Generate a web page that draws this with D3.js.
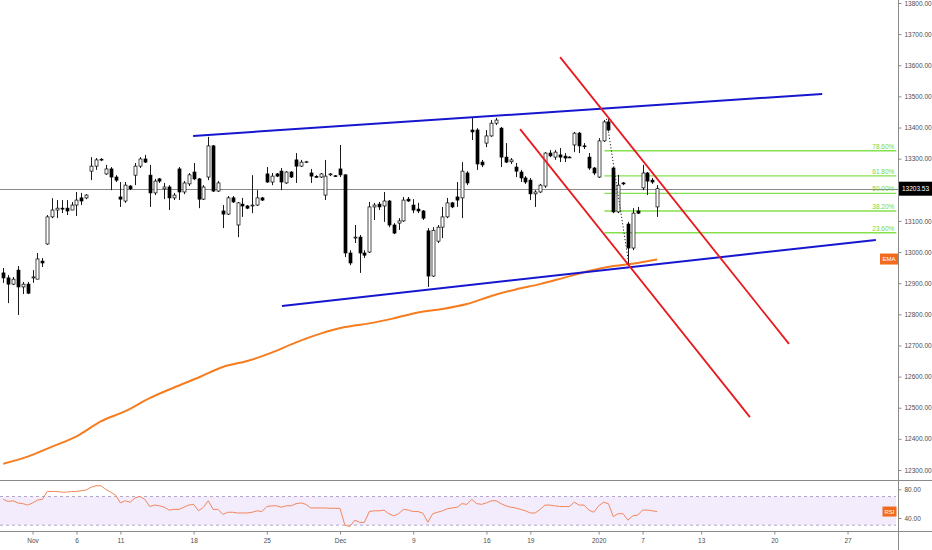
<!DOCTYPE html>
<html>
<head>
<meta charset="utf-8">
<script src="https://cdn.jsdelivr.net/npm/d3@7"></script>
<style>
  body { margin: 0; background: #fff; }
  svg { display: block; font-family: "Liberation Sans", Arial, sans-serif; }
</style>
</head>
<body>
<svg id="chart" width="932" height="550"></svg>
<script>
// candles, 3 per trading day: [open, high, low, close]
let ohlc = [
  [12933,12949,12901,12917],[12917,12926,12836,12897],[12897,12920,12894,12913],[12942,12955,12798,12888],
  [12888,12904,12865,12897],[12897,12904,12865,12868],[12917,12942,12901,12920],[12913,12997,12913,12978],
  [12971,12981,12952,12965],[13026,13119,13023,13113],[13113,13173,13109,13135],[13135,13167,13109,13141],
  [13141,13167,13125,13138],[13141,13167,13119,13132],[13135,13161,13135,13151],[13151,13193,13116,13167],
  [13174,13190,13151,13164],[13174,13186,13170,13183],[13260,13305,13231,13276],[13276,13302,13264,13296],
  [13296,13302,13292,13298],[13251,13280,13248,13267],[13267,13273,13199,13241],[13241,13247,13225,13231],
  [13177,13225,13145,13170],[13164,13225,13158,13215],[13212,13215,13199,13203],[13247,13286,13215,13276],
  [13276,13305,13270,13299],[13299,13312,13286,13289],[13247,13280,13145,13190],[13190,13235,13183,13228],
  [13235,13238,13222,13228],[13203,13222,13170,13209],[13209,13215,13135,13174],[13174,13190,13167,13183],
  [13267,13273,13167,13193],[13193,13228,13186,13222],[13219,13254,13212,13248],[13257,13286,13231,13235],
  [13235,13238,13141,13170],[13170,13215,13167,13209],[13241,13370,13231,13341],[13341,13344,13193,13196],
  [13196,13228,13193,13222],[13132,13151,13077,13122],[13122,13180,13119,13174],[13174,13180,13158,13161],
  [13087,13161,13048,13158],[13154,13174,13113,13148],[13148,13151,13138,13141],[13148,13247,13125,13151],
  [13151,13199,13148,13174],[13174,13177,13164,13167],[13251,13273,13222,13225],[13225,13254,13215,13244],
  [13251,13254,13241,13244],[13260,13270,13199,13225],[13222,13260,13219,13257],[13257,13260,13238,13241],
  [13296,13318,13222,13276],[13276,13296,13273,13289],[13289,13293,13286,13290],[13254,13267,13222,13244],
  [13243,13247,13238,13241],[13241,13254,13238,13251],[13183,13296,13167,13244],[13248,13254,13244,13251],
  [13245,13247,13241,13244],[13267,13344,13241,13248],[13248,13250,12984,12997],[12997,13006,12958,12965],
  [13045,13087,13029,13048],[13048,13055,12933,12997],[12997,13006,12981,12990],[13000,13161,12997,13145],
  [13145,13158,13103,13151],[13154,13161,13135,13145],[13148,13193,13097,13164],[13164,13167,13080,13087],
  [13087,13093,13058,13061],[13093,13109,13071,13100],[13100,13177,13097,13167],[13170,13177,13161,13164],
  [13151,13170,13125,13135],[13138,13158,13125,13132],[13132,13135,13103,13109],[13068,13077,12888,12923],
  [12923,13080,12920,13070],[13035,13087,13029,13080],[13080,13145,13045,13113],[13113,13174,13109,13158],
  [13158,13161,13141,13145],[13177,13225,13145,13167],[13174,13289,13109,13260],[13254,13260,13215,13222],
  [13392,13431,13360,13386],[13392,13398,13264,13283],[13289,13296,13273,13280],[13350,13392,13337,13373],
  [13373,13424,13370,13414],[13414,13431,13408,13424],[13398,13402,13273,13305],[13305,13350,13286,13289],
  [13290,13302,13283,13296],[13273,13286,13241,13260],[13257,13264,13225,13238],[13238,13244,13219,13225],
  [13231,13238,13167,13187],[13187,13199,13145,13193],[13193,13219,13190,13215],[13212,13321,13206,13318],
  [13318,13328,13305,13309],[13305,13328,13296,13321],[13312,13334,13289,13305],[13308,13318,13289,13302],
  [13304,13308,13302,13305],[13344,13386,13321,13382],[13382,13386,13318,13341],[13341,13350,13331,13340],
  [13305,13318,13264,13270],[13270,13273,13247,13254],[13241,13366,13238,13357],[13357,13424,13354,13418],
  [13418,13427,13389,13392],[13270,13273,13125,13129],[13129,13248,13125,13215],[13222,13225,13215,13219],
  [13090,13097,12960,13013],[13013,13141,13006,13125],[13132,13145,13122,13125],[13206,13280,13199,13254],
  [13254,13257,13183,13228],[13231,13238,13219,13225],[13145,13215,13113,13203.53]
];

// EMA every 5 bars: [bar, value]
let emaPoints = [
  [0,12320],[5,12343],[10,12375],[15,12408],[20,12456],[25,12489],[30,12531],[35,12565],
  [40,12597],[45,12631],[50,12650],[55,12677],[60,12710],[65,12738],[70,12759],[75,12771],
  [80,12787],[85,12806],[90,12817],[95,12833],[100,12859],[105,12880],[110,12897],[115,12918],
  [120,12939],[125,12955],[130,12965],[134,12976]
];

// RSI, one value per bar
let rsi = [
  66,63,64,61,60,58,61,65,66,77,77,77,76,76,77,77,78,79,83,85,
  85,80,76,72,61,64,62,68,70,66,56,58,57,55,51,52,52,55,58,59,
  50,55,64,52,52,45,48,48,47,47,47,48,50,49,56,57,57,55,57,57,
  60,61,59,54,54,54,54,53.5,53.5,53.5,30,28,37,34,34,49,50,50,51,46,
  43,46,52,51,49,49,46.5,34,46,48,50,53,54,55,60,59,66,60,59,61,
  64,64,60,57,55,54,52,50,47,47,52,58,58,57,56,56,56,62,58,58,
  51,48,57,62,60,42,46,46,37,43,44,51,51,50,49
];

let lastPrice = 13203.53;

// time axis: bar index where a label sits
let timeTicks = [
  [6,"Nov"],[15,"6"],[24,"11"],[39,"18"],[54,"25"],[69,"Dec"],[84,"9"],
  [99,"16"],[108,"19"],[122,"2020"],[131,"7"],[143,"13"],[158,"20"],[173,"27"]
];
let priceTicks = d3.range(12300, 13801, 100).filter(v => v !== 13200);
let rsiTicks = [40, 80];

// drawn trend lines: [[bar, price], [bar, price]]
let blueLines = [
  [[38.9, 13373], [167.8, 13508]],
  [[57.1, 12827], [178.8, 13039]]
];
let redLines = [
  [[114.1, 13626], [161, 12705]],
  [[105.9, 13395], [153, 12470]]
];

// fib retracement anchors and levels
let fibHigh = [123.6, 13428];
let fibLow = [128.3, 12949];
let fibEnd = 183;
let fibLevels = [0.236, 0.382, 0.5, 0.618, 0.786];
let fibNames = ["23.60%", "38.20%", "50.00%", "61.80%", "78.60%"];

let svg = d3.select("#chart");
let axisX = 898.5;

let x = d3.scaleLinear().domain([0, 183]).range([3.3, 3.3 + 183 * 4.88]);
let y = d3.scaleLinear().domain([12300, 13800]).range([470, 3]);
let yR = d3.scaleLinear().domain([40, 80]).range([518, 489.3]);

svg.append("defs").append("clipPath").attr("id", "mainClip")
  .append("rect").attr("x", 0).attr("y", 0).attr("width", axisX).attr("height", 480);

// RSI pane background band and dashed bounds
svg.append("rect")
  .attr("x", 0).attr("width", 896)
  .attr("y", yR(70)).attr("height", yR(30) - yR(70))
  .attr("fill", "#f3ecfd");
[70, 30].forEach(function (v) {
  svg.append("line")
    .attr("x1", 0).attr("x2", 896)
    .attr("y1", yR(v)).attr("y2", yR(v))
    .attr("stroke", "#b2a6c8").attr("stroke-dasharray", "3,3");
});

// pane separators and axis line
svg.append("line").attr("x1", 0).attr("x2", 932).attr("y1", 480.5).attr("y2", 480.5).attr("stroke", "#8a8a8a");
svg.append("line").attr("x1", 0).attr("x2", 932).attr("y1", 531.5).attr("y2", 531.5).attr("stroke", "#8a8a8a");
svg.append("line").attr("x1", axisX).attr("x2", axisX).attr("y1", 0).attr("y2", 550).attr("stroke", "#8a8a8a");

let main = svg.append("g").attr("clip-path", "url(#mainClip)");

// EMA
main.append("path")
  .datum(emaPoints)
  .attr("fill", "none")
  .attr("stroke", "#f57c1f")
  .attr("stroke-width", 2)
  .attr("d", d3.line().curve(d3.curveMonotoneX).x(d => x(d[0])).y(d => y(d[1])));

// last price line
main.append("line")
  .attr("x1", 0).attr("x2", axisX)
  .attr("y1", Math.round(y(lastPrice)) + 0.5).attr("y2", Math.round(y(lastPrice)) + 0.5)
  .attr("stroke", "#6b6b6b").attr("stroke-width", 0.8);

// fib levels
let fibG = main.append("g");
fibLevels.forEach(function (lv, k) {
  let p = fibLow[1] + lv * (fibHigh[1] - fibLow[1]);
  fibG.append("line")
    .attr("x1", x(fibHigh[0]) - 2).attr("x2", x(fibEnd))
    .attr("y1", y(p)).attr("y2", y(p))
    .attr("stroke", "#84e04c").attr("stroke-width", 1.3);
  fibG.append("text")
    .attr("x", x(fibEnd) - 2).attr("y", y(p) - 2)
    .attr("text-anchor", "end")
    .attr("font-size", 6.5)
    .attr("fill", "#74d83c")
    .text(fibNames[k]);
});

// candles
let cw = 3;
let candle = main.append("g").selectAll("g").data(ohlc).join("g");
candle.append("line")
  .attr("x1", (d, i) => Math.round(x(i)) + 0.5)
  .attr("x2", (d, i) => Math.round(x(i)) + 0.5)
  .attr("y1", d => y(d[1]))
  .attr("y2", d => y(d[2]))
  .attr("stroke", "#000").attr("stroke-width", 0.9);
candle.append("rect")
  .attr("x", (d, i) => Math.round(x(i)) + 0.5 - cw / 2)
  .attr("width", cw)
  .attr("y", d => y(Math.max(d[0], d[3])))
  .attr("height", d => Math.max(0.8, Math.abs(y(d[0]) - y(d[3]))))
  .attr("fill", d => d[3] >= d[0] ? "#fff" : "#000")
  .attr("stroke", "#000").attr("stroke-width", 0.7);

// dotted zigzag between fib anchors
main.append("line")
  .attr("x1", x(fibHigh[0])).attr("y1", y(fibHigh[1]))
  .attr("x2", x(fibLow[0])).attr("y2", y(fibLow[1]))
  .attr("stroke", "#222").attr("stroke-width", 1)
  .attr("stroke-dasharray", "1.2,2");

// trend lines
blueLines.forEach(function (l) {
  main.append("line")
    .attr("x1", x(l[0][0])).attr("y1", y(l[0][1]))
    .attr("x2", x(l[1][0])).attr("y2", y(l[1][1]))
    .attr("stroke", "#1616cf").attr("stroke-width", 2);
});
redLines.forEach(function (l) {
  main.append("line")
    .attr("x1", x(l[0][0])).attr("y1", y(l[0][1]))
    .attr("x2", x(l[1][0])).attr("y2", y(l[1][1]))
    .attr("stroke", "#e8191f").attr("stroke-width", 1.8);
});

// RSI line
svg.append("path")
  .datum(rsi)
  .attr("fill", "none")
  .attr("stroke", "#f2875a")
  .attr("stroke-width", 1)
  .attr("d", d3.line().x((d, i) => x(i)).y(d => yR(d)));

// price axis
let axisFont = function (g) {
  g.select(".domain").remove();
  g.selectAll(".tick line").attr("stroke", "#8a8a8a");
  g.selectAll(".tick text").attr("fill", "#4d4d4d").attr("font-size", 6.5)
    .attr("font-family", "Liberation Sans, Arial, sans-serif");
};
svg.append("g")
  .attr("transform", "translate(" + axisX + ",0)")
  .call(d3.axisRight(y).tickValues(priceTicks).tickSize(3).tickPadding(3).tickFormat(d3.format(".2f")))
  .call(axisFont);
svg.append("g")
  .attr("transform", "translate(" + axisX + ",0)")
  .call(d3.axisRight(yR).tickValues(rsiTicks).tickSize(3).tickPadding(3).tickFormat(d3.format(".2f")))
  .call(axisFont);

// time axis
let tickMap = new Map(timeTicks);
svg.append("g")
  .attr("transform", "translate(0,531.5)")
  .call(d3.axisBottom(x).tickValues(timeTicks.map(t => t[0])).tickSize(3).tickPadding(4)
    .tickFormat(i => tickMap.get(i)))
  .call(axisFont);

// last price label
let ly = y(lastPrice);
svg.append("rect").attr("x", 899).attr("y", ly - 7).attr("width", 33).attr("height", 14).attr("fill", "#000");
svg.append("text").attr("x", 915.5).attr("y", ly + 2.3).attr("text-anchor", "middle")
  .attr("font-size", 6.5).attr("fill", "#fff").text(d3.format(".2f")(lastPrice));

// indicator badges
function badge(x0, y0, w, h, label) {
  svg.append("rect").attr("x", x0).attr("y", y0).attr("width", w).attr("height", h).attr("fill", "#f26a1b");
  svg.append("text").attr("x", x0 + w / 2).attr("y", y0 + h / 2 + 2.2).attr("text-anchor", "middle")
    .attr("font-size", 6).attr("fill", "#fff").text(label);
}
badge(880, y(emaPoints[emaPoints.length - 1][1]) - 6, 18, 11, "EMA");
badge(882.5, yR(rsi[rsi.length - 1]) - 5, 14, 10, "RSI");
</script>
</body>
</html>
